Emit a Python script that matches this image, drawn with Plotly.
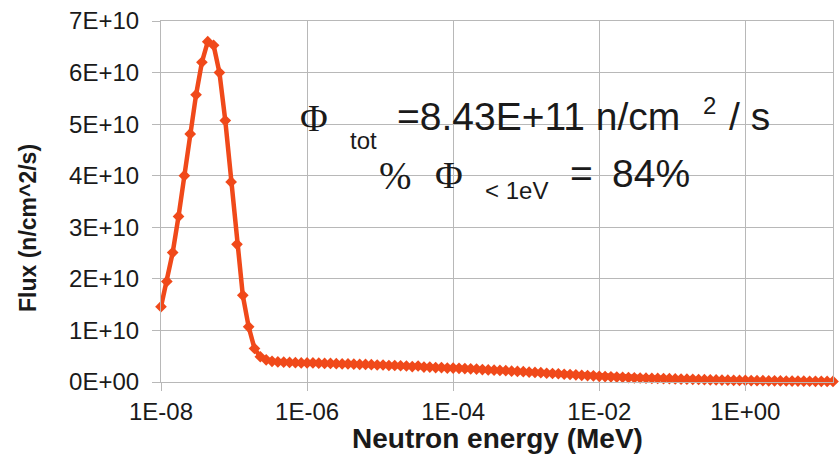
import plotly.graph_objects as go

# log10 of neutron energy (MeV)
log_energy = [
    -8.00, -7.92, -7.84, -7.76, -7.68, -7.60, -7.52, -7.44, -7.36, -7.28,
    -7.20, -7.12, -7.04, -6.96, -6.88, -6.80, -6.72, -6.64, -6.56, -6.48,
    -6.40, -6.32, -6.24, -6.16, -6.08, -6.00, -5.92, -5.84, -5.76, -5.68,
    -5.60, -5.52, -5.44, -5.36, -5.28, -5.20, -5.12, -5.04, -4.96, -4.88,
    -4.80, -4.72, -4.64, -4.56, -4.48, -4.40, -4.32, -4.24, -4.16, -4.08,
    -4.00, -3.92, -3.84, -3.76, -3.68, -3.60, -3.52, -3.44, -3.36, -3.28,
    -3.20, -3.12, -3.04, -2.96, -2.88, -2.80, -2.72, -2.64, -2.56, -2.48,
    -2.40, -2.32, -2.24, -2.16, -2.08, -2.00, -1.92, -1.84, -1.76, -1.68,
    -1.60, -1.52, -1.44, -1.36, -1.28, -1.20, -1.12, -1.04, -0.96, -0.88,
    -0.80, -0.72, -0.64, -0.56, -0.48, -0.40, -0.32, -0.24, -0.16, -0.08,
    0.00, 0.08, 0.16, 0.24, 0.32, 0.40, 0.48, 0.56, 0.64, 0.72,
    0.80, 0.88, 0.96, 1.04, 1.12, 1.20,
]

# flux in units of 1E+10 n/cm^2/s
flux_e10 = [
    1.46, 1.95, 2.51, 3.21, 4.00, 4.81, 5.57, 6.20, 6.60, 6.53,
    6.00, 5.07, 3.88, 2.67, 1.68, 1.07, 0.65, 0.49, 0.43, 0.40,
    0.39, 0.385, 0.38, 0.375, 0.37, 0.37, 0.37, 0.365, 0.36, 0.36,
    0.355, 0.35, 0.35, 0.345, 0.34, 0.34, 0.335, 0.33, 0.33, 0.32,
    0.32, 0.315, 0.31, 0.30, 0.31, 0.29, 0.29, 0.28, 0.28, 0.27,
    0.27, 0.265, 0.26, 0.255, 0.25, 0.24, 0.235, 0.23, 0.225, 0.22,
    0.21, 0.205, 0.20, 0.19, 0.185, 0.18, 0.17, 0.165, 0.16, 0.15,
    0.145, 0.14, 0.13, 0.125, 0.12, 0.11, 0.105, 0.10, 0.095, 0.09,
    0.085, 0.08, 0.078, 0.075, 0.072, 0.07, 0.067, 0.064, 0.06, 0.057,
    0.054, 0.051, 0.048, 0.045, 0.042, 0.04, 0.037, 0.035, 0.033, 0.031,
    0.03, 0.028, 0.026, 0.025, 0.023, 0.022, 0.02, 0.019, 0.018, 0.017,
    0.016, 0.015, 0.014, 0.013, 0.012, 0.011,
]

x_tickvals = [1e-8, 1e-6, 1e-4, 1e-2, 1e0]
x_ticktext = ["1E-08", "1E-06", "1E-04", "1E-02", "1E+00"]
y_tickvals = [0, 1e10, 2e10, 3e10, 4e10, 5e10, 6e10, 7e10]
y_ticktext = ["0E+00", "1E+10", "2E+10", "3E+10", "4E+10", "5E+10", "6E+10", "7E+10"]

energy = [10 ** v for v in log_energy]
flux = [v * 1e10 for v in flux_e10]

W, H = 839, 474
L, R, T, B = 161, 6, 21, 92
PW, PH = W - L - R, H - T - B

def px(x):
    return (x - L) / PW

def py(y):
    return (H - B - y) / PH

LINE = "#f0491a"
GRID = "#b8b8b8"
TXT = "#1a1a1a"
SANS = "Liberation Sans"
SERIF = "Liberation Serif"

fig = go.Figure()
fig.add_trace(go.Scatter(
    x=energy, y=flux, mode="lines+markers",
    line=dict(color=LINE, width=4.5),
    marker=dict(symbol="diamond", size=9, color=LINE),
    cliponaxis=False, showlegend=False,
))

axis_common = dict(
    showgrid=True, gridcolor=GRID, gridwidth=1,
    showline=True, linecolor=GRID, linewidth=1, mirror=True,
    ticks="outside", ticklen=8, tickcolor=GRID, tickwidth=1,
    zeroline=False, tickfont=dict(family=SANS, size=24, color=TXT),
)

fig.update_layout(
    width=W, height=H,
    margin=dict(l=L, r=R, t=T, b=B),
    paper_bgcolor="white", plot_bgcolor="white",
    xaxis=dict(type="log", range=[-8, 1.2], tickvals=x_tickvals,
               ticktext=x_ticktext, ticklabelstandoff=0, **axis_common),
    yaxis=dict(range=[0, 7e10], tickvals=y_tickvals, ticktext=y_ticktext,
               ticklabelstandoff=8, **axis_common),
)

def ann(text, x, y, family, size, xanchor="left", angle=0, bold=False):
    if bold:
        text = "<b>" + text + "</b>"
    fig.add_annotation(
        text=text, xref="paper", yref="paper", x=px(x), y=py(y),
        xanchor=xanchor, yanchor="middle", showarrow=False,
        textangle=angle, font=dict(family=family, size=size, color=TXT),
    )

# axis titles
ann("Neutron energy (MeV)", 497, 438, SANS, 28, xanchor="center", bold=True)
ann("Flux (n/cm^2/s)", 28, 228, SANS, 23, xanchor="center", angle=-90, bold=True)

# in-plot annotation text
ann("Φ", 298, 118, SERIF, 38)
ann("tot", 348, 140, SANS, 24)
ann("=8.43E+11 n/cm", 395, 116, SANS, 39)
ann("2", 701, 106, SANS, 24)
ann("/ s", 727, 116, SANS, 39)
ann("%", 377, 175, SERIF, 39)
ann("Φ", 433, 175, SERIF, 38)
ann("&lt; 1eV", 483, 190, SANS, 24)
ann("=", 568, 173, SANS, 39)
ann("84%", 610, 173, SANS, 39)

fig.write_html("out.html")
